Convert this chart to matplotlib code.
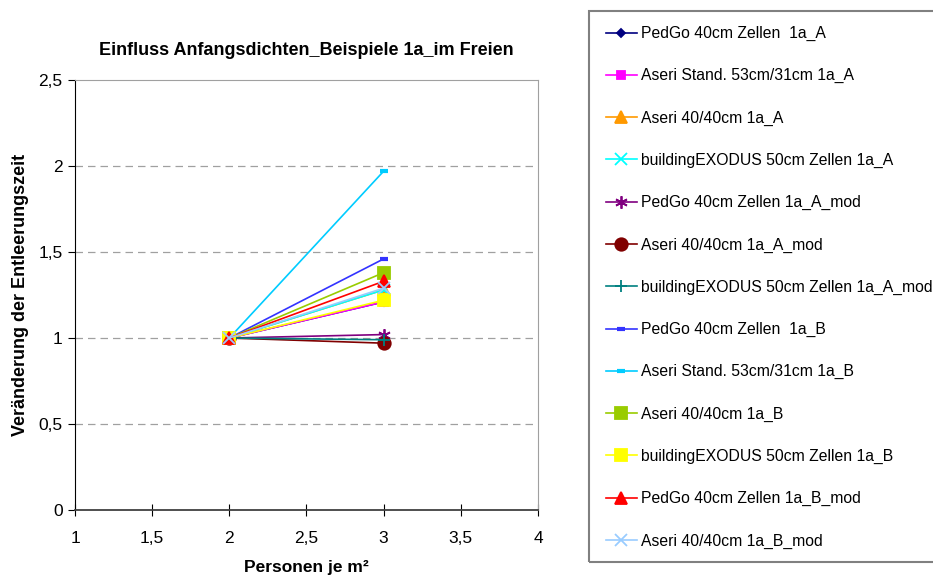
import matplotlib
matplotlib.use("Agg")
import matplotlib.pyplot as plt
from matplotlib.patches import Rectangle

plt.rcParams['font.family'] = ['Liberation Sans', 'DejaVu Sans']

# Personen je m²
dichte = [2, 3]

labels = [
    "PedGo 40cm Zellen  1a_A",
    "Aseri Stand. 53cm/31cm 1a_A",
    "Aseri 40/40cm 1a_A",
    "buildingEXODUS 50cm Zellen 1a_A",
    "PedGo 40cm Zellen 1a_A_mod",
    "Aseri 40/40cm 1a_A_mod",
    "buildingEXODUS 50cm Zellen 1a_A_mod",
    "PedGo 40cm Zellen  1a_B",
    "Aseri Stand. 53cm/31cm 1a_B",
    "Aseri 40/40cm 1a_B",
    "buildingEXODUS 50cm Zellen 1a_B",
    "PedGo 40cm Zellen 1a_B_mod",
    "Aseri 40/40cm 1a_B_mod",
]

# Veränderung der Entleerungszeit
werte = [
    [1.0, 1.21],
    [1.0, 1.21],
    [1.0, 1.28],
    [1.0, 1.28],
    [1.0, 1.02],
    [1.0, 0.97],
    [1.0, 0.99],
    [1.0, 1.46],
    [1.0, 1.97],
    [1.0, 1.38],
    [1.0, 1.22],
    [1.0, 1.33],
    [1.0, 1.29],
]

farben = ['#000080', '#FF00FF', '#FF9900', '#00FFFF', '#800080', '#800000',
          '#008080', '#3333FF', '#00CCFF', '#99CC00', '#FFFF00', '#FF0000',
          '#99CCFF']
marker = ['D', 's', '^', 'x', (6, 2, 0), 'o', '+', '_', '_', 's', 's', '^', 'x']
msize = [4, 6, 8, 8, 9, 9, 9, 6, 6, 9, 9, 8, 8]
mew = [1.3, 1.3, 1.3, 1.3, 1.3, 1.3, 1.3, 3, 3, 1.3, 1.3, 1.3, 1.3]

fig = plt.figure(figsize=(9.33, 5.78), dpi=100)
ax = fig.add_axes([0.0804, 0.1176, 0.4962, 0.744])

handles = []
for i in range(len(labels)):
    h, = ax.plot(dichte, werte[i], color=farben[i], marker=marker[i],
                 markersize=msize[i], linewidth=1.2, markeredgewidth=mew[i],
                 label=labels[i])
    handles.append(h)

ax.set_xlim(1, 4)
ax.set_ylim(0, 2.5)
ax.set_xticks([1, 1.5, 2, 2.5, 3, 3.5, 4])
ax.set_xticklabels(["1", "1,5", "2", "2,5", "3", "3,5", "4"])
ax.set_yticks([0, 0.5, 1, 1.5, 2, 2.5])
ax.set_yticklabels(["0", "0,5", "1", "1,5", "2", "2,5"])
ax.tick_params(labelsize=12.5)
ax.tick_params(axis='x', direction='inout', length=8, pad=11)
ax.tick_params(axis='y', direction='out', length=5, pad=4)

for y in [0.5, 1, 1.5, 2]:
    ax.axhline(y, color='#A0A0A0', linestyle=(0, (6, 4)), linewidth=0.9, zorder=0)

ax.spines['left'].set_color('black')
ax.spines['bottom'].set_color('#404040')
ax.spines['bottom'].set_linewidth(1.3)
ax.spines['top'].set_color('#A0A0A0')
ax.spines['right'].set_color('#A0A0A0')

ax.set_title("Einfluss Anfangsdichten_Beispiele 1a_im Freien",
             fontsize=13, fontweight='bold', pad=18)
ax.set_xlabel("Personen je m²", fontsize=12.5, fontweight='bold', labelpad=10)
ax.set_ylabel("Veränderung der Entleerungszeit", fontsize=13, fontweight='bold', labelpad=7)

# Legendenrahmen
fig.patches.append(Rectangle((589 / 933, 16 / 578), 0.5, 551 / 578,
                             transform=fig.transFigure, fill=False,
                             edgecolor='#808080', linewidth=1.5))
fig.legend(handles=handles, loc='upper left', bbox_to_anchor=(606 / 933, 1 - 26 / 578),
           frameon=False, fontsize=11.3, handlelength=1.95, handletextpad=0.3,
           labelspacing=1.73, borderpad=0, borderaxespad=0)

fig.savefig("out.png", dpi=100)
